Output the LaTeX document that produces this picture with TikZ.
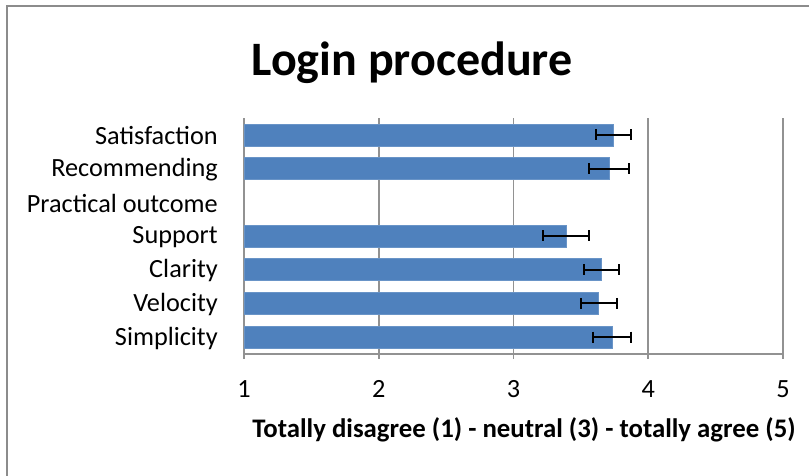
\documentclass[tikz,border=0pt]{standalone}
\usepackage{fontspec}
\setmainfont{Carlito}
\definecolor{barblue}{HTML}{4F81BD}
\definecolor{framegray}{HTML}{8C8C8C}
\definecolor{gridgray}{HTML}{929292}
\begin{document}
\begin{tikzpicture}[x=0.75pt,y=-0.75pt,
  frameline/.style={draw=framegray,line width=1.5pt},
  gridline/.style={draw=gridgray,line width=1.4pt},
  bar/.style={fill=barblue,draw=barblue!85!white,line width=0.4pt},
  errbar/.style={draw=black,line width=1.4pt},
  catlabel/.style={anchor=east,inner sep=0pt,font=\fontsize{19.7}{22}\selectfont},
  ticklabel/.style={anchor=base,inner sep=0pt,font=\fontsize{19.7}{22}\selectfont},
  charttitle/.style={anchor=base,inner sep=0pt,font=\fontsize{36}{40}\selectfont\bfseries},
  axistitle/.style={anchor=base,inner sep=0pt,font=\fontsize{20.1}{24}\selectfont\bfseries}]
\useasboundingbox (0,0) rectangle (809,475);

% chart frame (runs past the right and bottom edges)
\draw[frameline] (7,480) -- (7,6) -- (815,6);

% title
\node[charttitle] (title) at (412,75) {Login procedure};

% value scale: 1 -> 244, 5 -> 783
\pgfmathsetmacro{\xo}{244}
\pgfmathsetmacro{\xu}{134.75}

% vertical gridlines and axes
\foreach \v in {2,3,4,5}
  \draw[gridline] ({\xo+(\v-1)*\xu},118) -- ({\xo+(\v-1)*\xu},354);
\draw[gridline] (\xo,118) -- (\xo,354);
\draw[gridline] (\xo,354) -- (783,354);
\foreach \v in {1,...,5}
  \draw[gridline] ({\xo+(\v-1)*\xu},354) -- ({\xo+(\v-1)*\xu},359);

% tick labels
\foreach \v in {1,...,5}
  \node[ticklabel] (tick\v) at ({\xo+(\v-1)*\xu},397) {\v};

% axis title
\node[axistitle] (xtitle) at (524,437) {Totally disagree (1) - neutral (3) - totally agree (5)};

% category labels
\foreach \name/\row in {Satisfaction/1,Recommending/2,Practical outcome/3,Support/4,Clarity/5,Velocity/6,Simplicity/7}
  \node[catlabel] (cat\row) at (218,{118+33.71*(\row-0.5)+1}) {\name};

% bars with error bars
\foreach \row/\val/\lo/\hi in {1/3.74/3.61/3.87,2/3.71/3.56/3.86,4/3.39/3.22/3.56,5/3.65/3.52/3.78,6/3.63/3.50/3.77,7/3.73/3.59/3.87}{
  \pgfmathsetmacro{\yc}{118+33.71*(\row-0.5)}
  \fill[bar] (\xo,\yc-11) rectangle ({\xo+(\val-1)*\xu},\yc+11);
  \draw[errbar] ({\xo+(\lo-1)*\xu},\yc) -- ({\xo+(\hi-1)*\xu},\yc);
  \draw[errbar] ({\xo+(\lo-1)*\xu},\yc-5.5) -- ({\xo+(\lo-1)*\xu},\yc+5.5);
  \draw[errbar] ({\xo+(\hi-1)*\xu},\yc-5.5) -- ({\xo+(\hi-1)*\xu},\yc+5.5);
}
\end{tikzpicture}
\end{document}
